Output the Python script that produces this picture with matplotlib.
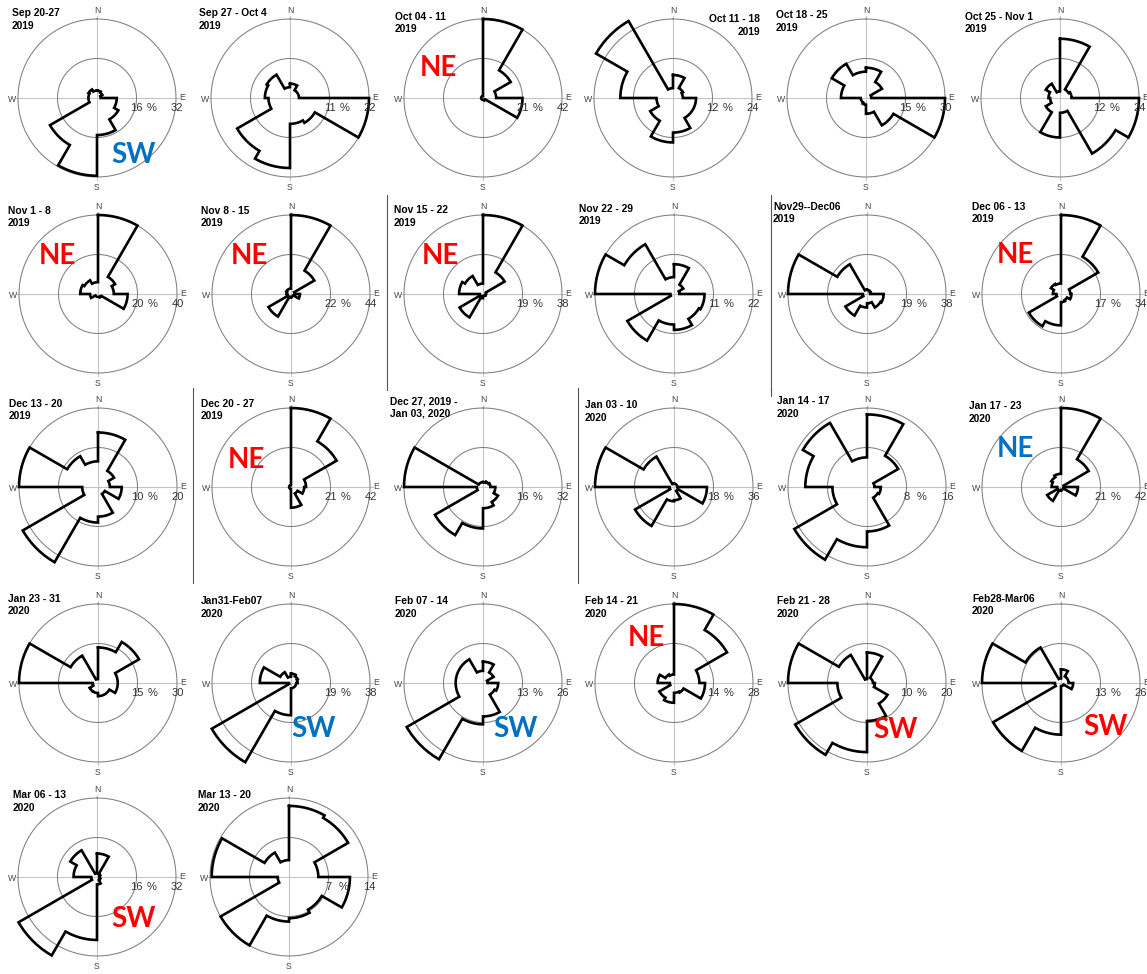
import numpy as np
import matplotlib
matplotlib.use("Agg")
import matplotlib.pyplot as plt
from matplotlib.lines import Line2D
from matplotlib import font_manager

# ---------------------------------------------------------------
# Weekly wind roses: frequency (%) per 30-degree sector, sectors
# start at north and run clockwise (0-30, 30-60, ..., 330-360).
# ---------------------------------------------------------------
titles = [
    ("Sep 20-27", "2019"), ("Sep 27 - Oct 4", "2019"), ("Oct 04 - 11", "2019"),
    ("Oct 11 - 18", "2019"), ("Oct 18 - 25", "2019"), ("Oct 25 - Nov 1", "2019"),
    ("Nov 1 - 8", "2019"), ("Nov 8 - 15", "2019"), ("Nov 15 - 22", "2019"),
    ("Nov 22 - 29", "2019"), ("Nov29--Dec06", "2019"), ("Dec 06 - 13", "2019"),
    ("Dec 13 - 20", "2019"), ("Dec 20 - 27", "2019"), ("Dec 27, 2019 -", "Jan 03, 2020"),
    ("Jan 03 - 10", "2020"), ("Jan 14 - 17", "2020"), ("Jan 17 - 23", "2020"),
    ("Jan 23 - 31", "2020"), ("Jan31-Feb07", "2020"), ("Feb 07 - 14", "2020"),
    ("Feb 14 - 21", "2020"), ("Feb 21 - 28", "2020"), ("Feb28-Mar06", "2020"),
    ("Mar 06 - 13", "2020"), ("Mar 13 - 20", "2020"),
]

ring_max = [32, 22, 42, 24, 30, 24,
            40, 44, 38, 22, 38, 34,
            20, 42, 32, 36, 16, 42,
            30, 38, 26, 28, 20, 26,
            32, 14]

sep20_27 = [3, 2.5, 1.5, 8, 10, 15, 31.5, 22, 3.5, 3.5, 4, 3]
sep27_oct04 = [4, 2.5, 2.5, 22, 8, 7.2, 19.5, 17, 6, 7, 7.5, 3]
oct04_11 = [42, 17, 7, 21, 1.5, 1, 1, 1, 1, 1, 1, 1]
oct11_18 = [7, 3.5, 3, 7, 7, 10.5, 13.5, 8, 5, 16, 27, 3]
oct18_25 = [11.5, 7, 2, 30, 12, 6, 2.5, 2, 2, 9.5, 15, 10]
oct25_nov01 = [18, 3, 3.5, 24, 19.5, 4.5, 12, 5, 3, 3.5, 5, 2]
nov01_08 = [40, 10, 8, 15, 2, 1.5, 1.5, 1.5, 4, 9, 8, 6]
nov08_15 = [44, 15, 2, 5, 1.5, 1.5, 2, 14.5, 2, 2.5, 3, 3]
nov15_22 = [38, 12, 1.5, 1.5, 1, 1, 2, 13, 1.5, 11.5, 10, 5]
nov22_29 = [8.3, 3, 1.5, 8.5, 8, 10, 8.5, 15, 1, 22, 16, 4.7]
nov29_dec06 = [2, 2, 1.5, 8, 7.5, 4.5, 6.5, 12, 2, 38, 16.5, 2]
dec06_13 = [34, 18.5, 4, 4.5, 3, 3.5, 13.5, 16, 2, 3.5, 5, 4.5]
dec13_20 = [13.8, 4.7, 3, 6, 2, 7.5, 9, 22, 4, 20, 9, 6.5]
dec20_27 = [42, 28, 8, 7, 4, 11, 1, 1, 1, 1, 1, 1]
dec27_jan03 = [2, 2.5, 3, 5, 7, 8.6, 16.8, 22.5, 2.5, 32, 2, 2]
jan03_10 = [1.5, 1.5, 1.5, 15, 2, 6, 6.5, 20.5, 2, 36, 16, 1.5]
jan14_17 = [14.7, 7.3, 1.5, 2.8, 2.5, 9, 12.2, 17, 7, 12.5, 15, 6]
jan17_23 = [42, 17, 1.5, 9, 1.5, 1.5, 2, 8.5, 2, 5, 6, 7]
jan23_31 = [13.5, 18, 7.5, 7.5, 5, 5, 3.8, 3.7, 2, 30, 12, 1.5]
jan31_feb07 = [4.5, 3.7, 3.2, 2.5, 2.5, 2.5, 15.5, 44, 1, 15, 6, 3]
feb07_14 = [7, 4, 1.5, 5, 4.4, 11, 13.6, 29, 9, 9, 9, 4]
feb14_21 = [28, 21.7, 9, 11, 3.9, 3.5, 7, 6, 1.5, 5.8, 3.5, 3]
feb21_28 = [7.7, 1.5, 1.5, 2, 6, 9.6, 17.5, 21, 7.5, 20, 8.2, 1]
feb28_mar06 = [4.5, 2.5, 2.5, 4, 1, 1, 17, 25.8, 2, 26, 13.5, 1.5]
mar06_13 = [9.5, 1.5, 1, 1.2, 1.5, 3, 25.5, 36.7, 2.3, 9.5, 12.5, 1.5]
mar13_20 = [12.6, 12.1, 5.2, 10.8, 6.7, 7.3, 7.9, 14, 2, 13.7, 5, 3]

roses = [sep20_27, sep27_oct04, oct04_11, oct11_18, oct18_25, oct25_nov01,
         nov01_08, nov08_15, nov15_22, nov22_29, nov29_dec06, dec06_13,
         dec13_20, dec20_27, dec27_jan03, jan03_10, jan14_17, jan17_23,
         jan23_31, jan31_feb07, feb07_14, feb14_21, feb21_28, feb28_mar06,
         mar06_13, mar13_20]

# dominant monsoon regime marked on selected weeks
regime = {0: "SW", 2: "NE", 6: "NE", 7: "NE", 8: "NE", 11: "NE", 13: "NE",
          17: "NE", 19: "SW", 20: "SW", 21: "NE", 22: "SW", 23: "SW", 24: "SW"}
regime_blue = {0, 17, 19, 20}

# ---------------------------------------------------------------
# Layout (pixels)
# ---------------------------------------------------------------
W, H = 1147, 974
fig = plt.figure(figsize=(W / 100, H / 100), dpi=100)
fig.patch.set_facecolor("white")

R = 79
row_y = [98, 294, 487, 683, 877]
col_x = [[97, 290, 483, 673, 866, 1060],
         [98, 291, 483, 674, 867, 1061],
         [98, 291, 483, 674, 867, 1061],
         [98, 291, 483, 674, 867, 1061],
         [97, 289]]

title_pos = [(12, 8), (199, 8), (395, 11.5), (760, 14), (776, 10), (965, 11.5),
             (8, 205.5), (201, 205.5), (394, 205), (579, 203), (773, 201), (972, 201.5),
             (9, 398), (201, 398), (390, 396), (585, 400), (777, 396), (969, 401),
             (8, 593), (201, 596), (395, 596), (585, 596), (777, 596), (972, 593),
             (13, 790), (198, 790)]

regime_pos = {0: (133, 153), 2: (438, 66), 6: (57, 254), 7: (249, 254), 8: (440, 254),
              11: (1015, 253), 13: (246, 458), 17: (1015, 447), 19: (314, 727),
              20: (516, 727), 21: (646, 636), 22: (896, 728), 23: (1105, 725),
              24: (133, 917)}

centers = []
for r, ys in enumerate(row_y):
    for x in col_x[r]:
        centers.append((x, ys))

# narrow bold face for the week titles when available
_names = {f.name for f in font_manager.fontManager.ttflist}
if "Liberation Sans Narrow" in _names:
    title_font, title_size = "Liberation Sans Narrow", 8.6
else:
    title_font, title_size = "Liberation Sans", 7.4


def fx(px):
    return px / W


def fy(py):
    return 1 - py / H


def rose_outline(vals):
    th, rr = [], []
    n = len(vals)
    width = 360 / n
    for i, v in enumerate(vals):
        t = np.linspace(i * width, (i + 1) * width, 16)
        th.extend(t)
        rr.extend([v] * len(t))
    th.append(360)
    rr.append(vals[0])
    return np.deg2rad(th), np.array(rr)


label_font = "Liberation Sans"
grid_col = "#7f7f7f"
axis_col = "#c4c4c4"
text_col = "#333333"

for k, (vals, rmax) in enumerate(zip(roses, ring_max)):
    cx, cy = centers[k]
    ax = fig.add_axes([fx(cx - R), fy(cy + R), 2 * R / W, 2 * R / H],
                      projection="polar")
    ax.set_theta_zero_location("N")
    ax.set_theta_direction(-1)
    ax.set_ylim(0, rmax)
    ax.set_axis_off()

    # compass cross-hair
    for ang in (0, 90, 180, 270):
        ax.plot([np.deg2rad(ang)] * 2, [0, 1.04 * rmax], color=axis_col,
                lw=0.8, clip_on=False, zorder=1)
    # rings
    circ = np.linspace(0, 2 * np.pi, 361)
    for rv in (rmax / 2, rmax):
        ax.plot(circ, np.full_like(circ, rv), color=grid_col, lw=0.75,
                clip_on=False, zorder=2)

    # rose outline
    th, rr = rose_outline(vals)
    ax.plot(th, rr, color="black", lw=1.9, clip_on=False, zorder=5,
            solid_joinstyle="miter")

    # ring labels
    kw = dict(textcoords="offset pixels", ha="center", va="baseline",
              fontsize=8.0, color=text_col, family=label_font,
              annotation_clip=False, zorder=6)
    ax.annotate(f"{rmax // 2:g}", xy=(np.pi / 2, rmax / 2), xytext=(0, -13), **kw)
    ax.annotate("%", xy=(np.pi / 2, rmax / 2), xytext=(15, -13), **kw)
    ax.annotate(f"{rmax:g}", xy=(np.pi / 2, rmax), xytext=(1, -13), **kw)

    # compass letters
    ckw = dict(ha="center", va="baseline", fontsize=6.2, color="#444444",
               family=label_font)
    fig.text(fx(cx), fy(cy - 85), "N", **ckw)
    fig.text(fx(cx), fy(cy + 92), "S", **ckw)
    fig.text(fx(cx - 85), fy(cy + 4), "W", **ckw)
    fig.text(fx(cx + 85), fy(cy + 2), "E", **ckw)

    # week title
    tx, ty = title_pos[k]
    ha = "right" if k == 3 else "left"
    line1, line2 = titles[k]
    fig.text(fx(tx), fy(ty + 8.5), line1, ha=ha, va="baseline", fontsize=title_size,
             fontweight="bold", family=title_font, color="black")
    fig.text(fx(tx), fy(ty + 20.8), line2, ha=ha, va="baseline", fontsize=title_size,
             fontweight="bold", family=title_font, color="black")

    # monsoon regime tag
    if k in regime:
        rx, ry = regime_pos[k]
        col = "#0070C0" if k in regime_blue else "#FF0000"
        fig.text(fx(rx), fy(ry + 10), regime[k], ha="center", va="baseline",
                 fontsize=20, fontweight="bold", family="Lato", color=col)

# panel separators
for x, y0, y1 in [(387, 195, 390), (771, 195, 390), (193, 388, 583),
                  (578, 388, 583), (771, 388, 396)]:
    fig.add_artist(Line2D([fx(x), fx(x)], [fy(y0), fy(y1)], color="#555555", lw=0.8))

fig.savefig("out.png", dpi=100, facecolor="white")
